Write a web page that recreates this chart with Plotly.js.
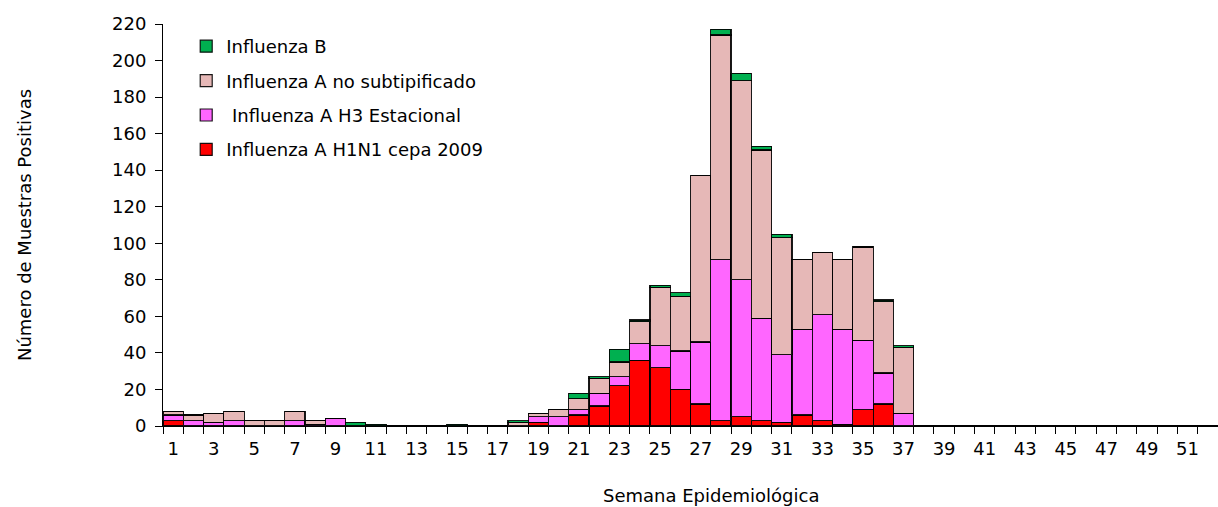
<!DOCTYPE html>
<html>
<head>
<meta charset="utf-8">
<script src="https://cdn.plot.ly/plotly-3.0.1.min.js"></script>
<style>html,body{margin:0;padding:0;background:#fff;overflow:hidden;}</style>
</head>
<body>
<div id="chart" style="width:1218px;height:507px;"></div>
<script>
const weeks = [1,2,3,4,5,6,7,8,9,10,11,12,13,14,15,16,17,18,19,20,21,22,23,24,25,26,27,28,29,30,31,32,33,34,35,36,37,38,39,40,41,42,43,44,45,46,47,48,49,50,51,52];
const tickWeeks = [1,3,5,7,9,11,13,15,17,19,21,23,25,27,29,31,33,35,37,39,41,43,45,47,49,51];

const h1n1 = [3,0,0,0,0,0,0,0,0,0,0,0,0,0,0,0,0,0,2,0,6,11,22,36,32,20,12,3,5,3,2,6,3,1,9,12,0,0,0,0,0,0,0,0,0,0,0,0,0,0,0,0];
const h3   = [3,3,2,3,0,0,3,1,4,0,0,0,0,0,0,0,0,0,3,5,3,7,5,9,12,21,34,88,75,56,37,47,58,52,38,17,7,0,0,0,0,0,0,0,0,0,0,0,0,0,0,0];
const noSub= [2,3,5,5,3,3,5,2,0,0,0,0,0,0,0,0,0,2,2,4,6,8,8,12,32,30,91,123,109,92,64,38,34,38,51,39,36,0,0,0,0,0,0,0,0,0,0,0,0,0,0,0];
const fluB = [0,0,0,0,0,0,0,0,0,2,1,0,0,0,1,0,0,1,0,0,3,1,7,1,1,2,0,3,4,2,2,0,0,0,0,1,1,0,0,0,0,0,0,0,0,0,0,0,0,0,0,0];

const names = ["Influenza A H1N1 cepa 2009", "\u00a0Influenza A H3 Estacional", "Influenza A no subtipificado", "Influenza B"];
const colors = ["#FF0000", "#FF66FF", "#E6B8B7", "#00B050"];
const ranks = [4, 3, 2, 1];
const series = [h1n1, h3, noSub, fluB];

const FONT = "DejaVu Sans, Verdana, sans-serif";
const FS = 18;

const traces = series.map((vals, i) => ({
  type: "bar",
  x: weeks,
  y: vals,
  name: names[i],
  legendgroup: "g" + i,
  legendrank: ranks[i],
  marker: {color: colors[i], line: {color: "rgba(0,0,0,0.9)", width: 1.2}},
  hoverinfo: "x+y+name"
}));

const layout = {
  width: 1218,
  height: 507,
  margin: {l: 163, r: 0, t: 24, b: 81},
  paper_bgcolor: "#fff",
  plot_bgcolor: "#fff",
  barmode: "stack",
  bargap: 0,
  font: {family: FONT, size: FS, color: "#000"},
  showlegend: true,
  legend: {
    x: 0.022, y: 0.99, xanchor: "left", yanchor: "top",
    traceorder: "grouped",
    tracegroupgap: 8,
    bgcolor: "rgba(0,0,0,0)",
    font: {family: FONT, size: FS, color: "#000"},
    itemwidth: 30
  },
  xaxis: {
    type: "linear",
    range: [0.5, 52.5],
    tickmode: "array",
    tickvals: tickWeeks,
    ticktext: tickWeeks.map(String),
    ticks: "",
    ticklabelstandoff: 6,
    showgrid: false,
    zeroline: false,
    showline: true,
    linecolor: "#000",
    linewidth: 1,
    tickfont: {family: FONT, size: FS, color: "#000"},
    minor: {tickmode: "linear", tick0: 0.5, dtick: 1, ticks: "outside", ticklen: 7, tickcolor: "#000", tickwidth: 1, showgrid: false}
  },
  yaxis: {
    range: [0, 220],
    dtick: 20,
    tick0: 0,
    ticks: "outside",
    ticklen: 7,
    ticklabelstandoff: 5,
    tickcolor: "#000",
    showgrid: false,
    zeroline: false,
    showline: true,
    linecolor: "#000",
    linewidth: 1,
    tickfont: {family: FONT, size: FS, color: "#000"},
    title: {text: "Número de Muestras Positivas", font: {family: FONT, size: FS, color: "#000"}, standoff: 75}
  },
  annotations: [{
    text: "Semana Epidemiológica",
    xref: "paper", yref: "paper",
    x: 0.519, y: -0.172,
    xanchor: "center", yanchor: "middle",
    showarrow: false,
    font: {family: FONT, size: FS, color: "#000"}
  }]
};

Plotly.newPlot("chart", traces, layout, {displayModeBar: false, staticPlot: true});
</script>
</body>
</html>
